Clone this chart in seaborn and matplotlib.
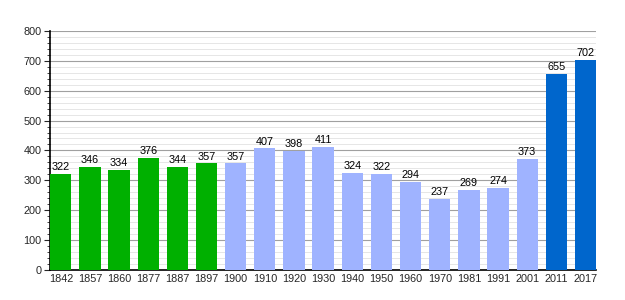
import matplotlib
matplotlib.use("Agg")
import matplotlib.pyplot as plt
import seaborn as sns
import pandas as pd
from matplotlib.ticker import MultipleLocator

years = ["1842", "1857", "1860", "1877", "1887", "1897", "1900", "1910", "1920", "1930",
         "1940", "1950", "1960", "1970", "1981", "1991", "2001", "2011", "2017"]
population = [322, 346, 334, 376, 344, 357, 357, 407, 398, 411,
              324, 322, 294, 237, 269, 274, 373, 655, 702]
groups = ["a"] * 6 + ["b"] * 11 + ["c"] * 2
palette = {"a": "#00b000", "b": "#9fb3ff", "c": "#0066cc"}

df = pd.DataFrame({"year": years, "pop": population, "group": groups})

sns.set_style("white")
plt.rcParams["font.family"] = ["Liberation Sans", "DejaVu Sans"]

fig = plt.figure(figsize=(6.25, 3.0), dpi=100)
ax = fig.add_axes([0.08, 0.1, 0.874, 0.797])

sns.barplot(data=df, x="year", y="pop", hue="group", palette=palette, dodge=False,
            width=0.73, legend=False, ax=ax, saturation=1, zorder=3,
            edgecolor="none", linewidth=0)

ax.set_ylim(0, 800)
ax.set_xlim(-0.37, 18.37)
ax.yaxis.set_major_locator(MultipleLocator(100))
ax.yaxis.set_minor_locator(MultipleLocator(20))
ax.grid(which="major", axis="y", color="#a0a0a0", linewidth=0.8, zorder=0)
ax.grid(which="minor", axis="y", color="#e2e2e2", linewidth=0.6, zorder=0)
ax.set_axisbelow(True)

for s in ["top", "right"]:
    ax.spines[s].set_visible(False)
for s in ["left", "bottom"]:
    ax.spines[s].set_color("black")
    ax.spines[s].set_linewidth(1.2)

ax.tick_params(axis="y", which="major", length=4, width=0.8, labelsize=7.8, pad=2, left=True)
ax.tick_params(axis="y", which="minor", length=2.5, width=0.6, left=True)
ax.tick_params(axis="x", which="both", length=0, labelsize=7.8, pad=3, bottom=False)
ax.set_xlabel("")
ax.set_ylabel("")

for i, v in enumerate(population):
    ax.text(i, v + 6, str(v), ha="center", va="bottom", fontsize=7.8, color="black", zorder=5)

fig.savefig("out.png", dpi=100)
